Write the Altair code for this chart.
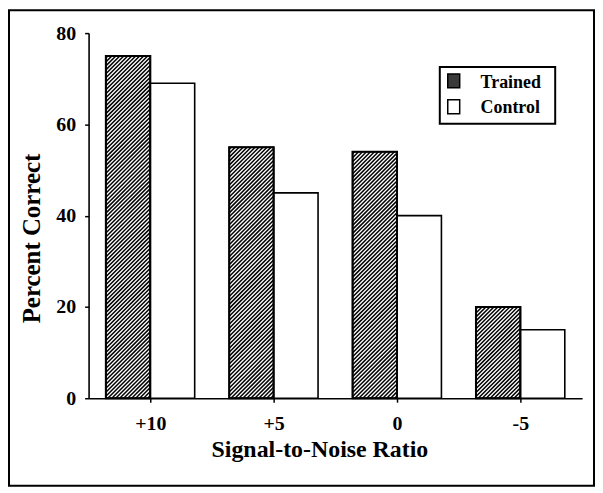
import json
import altair as alt
import pandas as pd

# ---- data ----
snr_labels = ["+10", "+5", "0", "-5"]
series = ["Trained", "Control"]
trained = [75, 55, 54, 20]
control = [69, 45, 40, 15]
y_ticks = [0, 20, 40, 60, 80]

# ---- layout constants ----
W_PX = 496
H_PX = 367
Y_MAX = 80
BW = 0.36  # bar width in category units
px_x = W_PX / len(snr_labels)
px_y = H_PX / Y_MAX
SERIF = "Liberation Serif"

rows = []
for i, lab in enumerate(snr_labels):
    c = i + 0.5
    rows.append(dict(snr=lab, series=series[0], x0=c - BW, x1=c, value=trained[i]))
    rows.append(dict(snr=lab, series=series[1], x0=c, x1=c + BW, value=control[i]))
bars = pd.DataFrame(rows)

# diagonal hatch lines inside the trained bars (derived from the values)
hatch_rows = []
step = 4.0
for i in range(len(snr_labels)):
    xl = i + 0.5 - BW
    W = BW * px_x
    H = trained[i] * px_y
    t = -H + step / 2
    while t < W:
        u0 = max(0.0, t)
        u1 = min(W, H + t)
        if u1 > u0:
            hatch_rows.append(dict(x0=xl + u0 / px_x, value=(u0 - t) / px_y,
                                   x1=xl + u1 / px_x, v2=(u1 - t) / px_y))
        t += step
hatch = pd.DataFrame(hatch_rows)

xscale = alt.Scale(domain=[0, len(snr_labels)], nice=False, zero=False)
yscale = alt.Scale(domain=[0, Y_MAX], nice=False)

label_expr = json.dumps(snr_labels) + "[floor(datum.value)]"

xaxis = alt.Axis(values=[i + 0.5 for i in range(len(snr_labels))],
                 labelExpr=label_expr, title="Signal-to-Noise  Ratio",
                 tickSize=4, labelPadding=11, labelFont=SERIF,
                 labelFontSize=20, labelFontWeight="bold",
                 labelColor="black", tickColor="black",
                 domainColor="black", domainWidth=1.6, tickWidth=1.5,
                 titleFont=SERIF, titleFontSize=24, titleFontWeight="bold",
                 titleColor="black", titleX=232, titleY=59,
                 titleBaseline="alphabetic", titleAlign="center",
                 titleAnchor="start", grid=False)
yaxis = alt.Axis(values=y_ticks, title="Percent Correct", tickSize=4,
                 labelPadding=9, labelFont=SERIF, labelFontSize=20,
                 labelFontWeight="bold", labelColor="black",
                 tickColor="black", domainColor="black",
                 domainWidth=1.6, tickWidth=1.5, titleFont=SERIF,
                 titleFontSize=25, titleFontWeight="bold",
                 titleColor="black", titleX=-57, titleY=206,
                 titleAngle=270, titleBaseline="middle",
                 titleAlign="center", grid=False)

X = alt.X("x0:Q", scale=xscale, axis=xaxis)
Y = alt.Y("value:Q", scale=yscale, axis=yaxis)

base_bars = alt.Chart(bars)

bar_fill = base_bars.mark_bar(fill="white", stroke="black", strokeWidth=1.6).encode(
    x=X, x2="x1:Q", y=Y, y2=alt.datum(0))

hatch_layer = alt.Chart(hatch).mark_rule(color="black", strokeWidth=1.5).encode(
    x=X, x2="x1:Q", y=Y, y2="v2:Q")

outline = base_bars.mark_bar(fillOpacity=0, stroke="black", strokeWidth=2).encode(
    x=X, x2="x1:Q", y=Y, y2=alt.datum(0)
).transform_filter(alt.datum.series == series[0])

one = pd.DataFrame({"k": [0]})

frame = alt.Chart(one).mark_rect(fillOpacity=0, stroke="black", strokeWidth=2).encode(
    x=alt.value(-80), x2=alt.value(508), y=alt.value(-23), y2=alt.value(455))

leg_box = alt.Chart(one).mark_rect(fill="white", stroke="black", strokeWidth=2).encode(
    x=alt.value(353), x2=alt.value(469), y=alt.value(34), y2=alt.value(91))

sw_tr = alt.Chart(one).mark_rect(fill="#3a3a3a", stroke="black", strokeWidth=1.5).encode(
    x=alt.value(361), x2=alt.value(373), y=alt.value(41), y2=alt.value(55))
sw_ct = alt.Chart(one).mark_rect(fill="white", stroke="black", strokeWidth=1.5).encode(
    x=alt.value(361), x2=alt.value(373), y=alt.value(67), y2=alt.value(81))

txt_kw = dict(align="left", baseline="alphabetic", font=SERIF, fontSize=18,
              fontWeight="bold", color="black")
tx_tr = alt.Chart(one).mark_text(text=series[0], **txt_kw).encode(
    x=alt.value(394), y=alt.value(55))
tx_ct = alt.Chart(one).mark_text(text=series[1], **txt_kw).encode(
    x=alt.value(394), y=alt.value(80))

chart = alt.layer(
    frame, bar_fill, hatch_layer, outline, leg_box, sw_tr, sw_ct, tx_tr, tx_ct
).properties(
    width=W_PX, height=H_PX, padding=0, background="white"
).configure_view(stroke=None)

chart.save("out.html", embed_options={"renderer": "svg", "actions": False})
